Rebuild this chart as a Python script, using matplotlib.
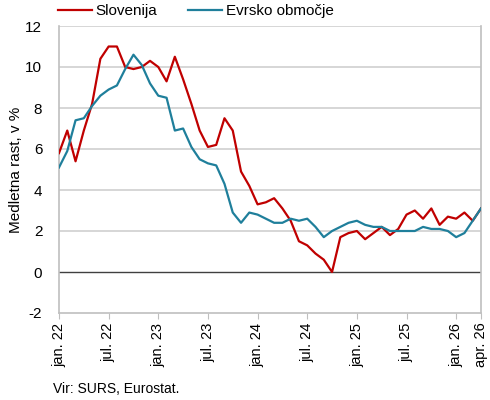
import matplotlib
matplotlib.use("Agg")
import matplotlib.pyplot as plt

plt.rcParams['font.family'] = ['Liberation Sans', 'DejaVu Sans']

months = ["jan. 22", "jul. 22", "jan. 23", "jul. 23", "jan. 24", "jul. 24",
          "jan. 25", "jul. 25", "jan. 26", "apr. 26"]
tick_pos = [0, 6, 12, 18, 24, 30, 36, 42, 48, 51]

slovenija = [5.8, 6.9, 5.4, 6.9, 8.2, 10.4, 11.0, 11.0, 10.0, 9.9, 10.0, 10.3,
             10.0, 9.3, 10.5, 9.4, 8.2, 6.9, 6.1, 6.2, 7.5, 6.9, 4.9, 4.2,
             3.3, 3.4, 3.6, 3.1, 2.5, 1.5, 1.3, 0.9, 0.6, 0.0, 1.7, 1.9,
             2.0, 1.6, 1.9, 2.2, 1.8, 2.1, 2.8, 3.0, 2.6, 3.1, 2.3, 2.7,
             2.6, 2.9, 2.5, 3.1]
evro = [5.1, 5.9, 7.4, 7.5, 8.1, 8.6, 8.9, 9.1, 9.9, 10.6, 10.1, 9.2,
        8.6, 8.5, 6.9, 7.0, 6.1, 5.5, 5.3, 5.2, 4.3, 2.9, 2.4, 2.9,
        2.8, 2.6, 2.4, 2.4, 2.6, 2.5, 2.6, 2.2, 1.7, 2.0, 2.2, 2.4,
        2.5, 2.3, 2.2, 2.2, 2.0, 2.0, 2.0, 2.0, 2.2, 2.1, 2.1, 2.0,
        1.7, 1.9, 2.5, 3.1]

fig = plt.figure(figsize=(4.9, 4.0), dpi=100)
ax = fig.add_axes([0.1204, 0.2175, 0.8612, 0.7175])

x = list(range(len(slovenija)))
ax.plot(x, slovenija, color="#C00000", lw=1.6, label="Slovenija", zorder=3)
ax.plot(x, evro, color="#1F7F9B", lw=1.6, label="Evrsko območje", zorder=3)

ax.set_xlim(0, 51)
ax.set_ylim(-2, 12)
ax.set_yticks(range(-2, 13, 2))
ax.set_yticklabels([str(v) for v in range(-2, 13, 2)], fontsize=11)
for v in range(2, 13, 2):
    ax.axhline(v, color="#D0D0D0", lw=1.2, zorder=1)
ax.axhline(0, color="#404040", lw=1.0, zorder=2)

ax.set_xticks(tick_pos)
ax.set_xticklabels(months, rotation=90, fontsize=10.5)
ax.tick_params(axis='x', direction='out', length=4, color="#BFBFBF", pad=3)
ax.tick_params(axis='y', length=0, pad=12)

for s in ['left', 'right', 'bottom']:
    ax.spines[s].set_color("#BFBFBF")
    ax.spines[s].set_linewidth(1.2)
ax.spines['top'].set_visible(False)

ax.set_ylabel("Medletna rast, v %", fontsize=11)
ax.yaxis.set_label_coords(-0.085, 0.5)

ax.legend(loc='lower left', bbox_to_anchor=(-0.005, 1.022), ncol=2, frameon=False,
          fontsize=11, handlelength=2.2, handletextpad=0.25, columnspacing=2.0,
          borderaxespad=0, borderpad=0.1)

fig.text(0.108, 0.018, "Vir: SURS, Eurostat.", fontsize=10)

fig.savefig("out.png", dpi=100)
